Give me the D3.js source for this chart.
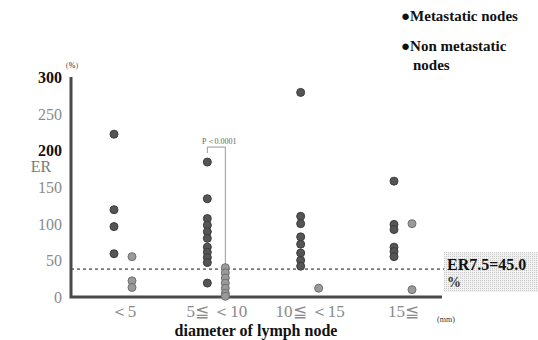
<!DOCTYPE html>
<html lang="en">
<head>
    <meta charset="UTF-8">
    <title>ER by lymph node diameter</title>
    <script src="https://d3js.org/d3.v7.min.js"></script>
    <style>
        body { margin: 0; background: #ffffff; }
        svg { display: block; }
    </style>
</head>
<body>
    <svg width="538" height="340"></svg>

    <script>
        // DATA (ER in %)
        const categories = ["＜5", "5≦ ＜10", "10≦ ＜15", "15≦"];
        const metastatic = [
            [222, 119, 96, 59],
            [184, 134, 107, 98, 89, 80, 68, 61, 54, 47, 19],
            [279, 110, 100, 82, 72, 60, 50, 42],
            [158, 99, 92, 68, 62, 55]
        ];
        const nonMetastatic = [
            [55, 22, 13],
            [40, 33, 26, 19, 12, 5, 1],
            [12],
            [100, 10]
        ];
        const yTicks = [0, 50, 100, 150, 200, 250, 300];
        const boldTicks = [200, 300];
        const threshold = 38;          // where the dotted cut-off line sits in the picture
        const thresholdLabel = ["ER7.5=45.0", "%"];
        const pText = "P＜0.0001";

        const serif = "Liberation Serif";
        const svg = d3.select("svg");
        const plot = { left: 71, right: 442, top: 77, bottom: 297 };

        const y = d3.scaleLinear().domain([0, 300]).range([plot.bottom, plot.top]);
        const x = d3.scalePoint().domain(categories).range([123, 403]);
        const offset = d3.scalePoint().domain(["met", "non"]).range([-9, 9]);

        // flatten series into points
        const points = [];
        categories.forEach((c, i) => {
            metastatic[i].forEach(v => points.push({ cat: c, type: "met", value: v }));
            nonMetastatic[i].forEach(v => points.push({ cat: c, type: "non", value: v }));
        });

        // Y axis labels
        const yAxis = svg.append("g")
            .attr("transform", `translate(${plot.left},0)`)
            .call(d3.axisLeft(y).tickValues(yTicks).tickSize(0).tickPadding(9));
        yAxis.select(".domain").remove();
        yAxis.selectAll("text")
            .style("font-size", "16px")
            .style("font-weight", d => boldTicks.includes(d) ? "bold" : "normal")
            .attr("fill", d => boldTicks.includes(d) ? "#111" : "#8a8a8a")
            .attr("dy", "0.35em");

        svg.append("text")
            .attr("x", 72).attr("y", 68)
            .attr("text-anchor", "middle")
            .style("font-size", "8px")
            .attr("fill", "#222")
            .text("（%）");

        svg.append("text")
            .attr("x", 41).attr("y", 172)
            .attr("text-anchor", "middle")
            .style("font-size", "16px")
            .attr("fill", "#7a7a7a")
            .text("ER");

        // X axis labels
        const xAxis = svg.append("g")
            .attr("transform", `translate(0,${plot.bottom})`)
            .call(d3.axisBottom(x).tickSize(0).tickPadding(8));
        xAxis.select(".domain").remove();
        xAxis.selectAll("text")
            .style("font-size", "17px")
            .attr("fill", "#8a8a8a");

        // threshold dotted line
        svg.append("line")
            .attr("x1", plot.left).attr("x2", 444)
            .attr("y1", y(threshold)).attr("y2", y(threshold))
            .attr("stroke", "#777")
            .attr("stroke-width", 1.6)
            .attr("stroke-dasharray", "3,3");

        // axis lines
        svg.append("path")
            .attr("d", `M${plot.left},${plot.top}V${plot.bottom}H${plot.right}`)
            .attr("fill", "none")
            .attr("stroke", "#4a4a4a")
            .attr("stroke-width", 3);

        // P value bracket between the 5-10 groups
        const c2 = categories[1];
        const bx1 = x(c2) + offset("met");
        const bx2 = x(c2) + offset("non");
        const by = y(d3.max(metastatic[1])) - 15;
        svg.append("path")
            .attr("d", `M${bx1},${by + 6}V${by}H${bx2}V${y(d3.max(nonMetastatic[1])) - 2}`)
            .attr("fill", "none")
            .attr("stroke", "#999")
            .attr("stroke-width", 1);
        svg.append("text")
            .attr("x", (bx1 + bx2) / 2 + 3).attr("y", by - 3)
            .attr("text-anchor", "middle")
            .style("font-size", "8px")
            .attr("fill", "#666")
            .text(pText);

        // dots
        svg.append("g").selectAll("circle")
            .data(points)
            .join("circle")
            .attr("cx", d => x(d.cat) + offset(d.type))
            .attr("cy", d => y(d.value))
            .attr("r", 4)
            .attr("fill", d => d.type === "met" ? "#555" : "#9a9a9a")
            .attr("stroke", d => d.type === "met" ? "#3c3c3c" : "#6e6e6e")
            .attr("stroke-width", 1);

        // threshold box
        const pattern = svg.append("defs").append("pattern")
            .attr("id", "dots").attr("width", 2).attr("height", 2)
            .attr("patternUnits", "userSpaceOnUse");
        pattern.append("rect").attr("width", 2).attr("height", 2).attr("fill", "#f2f2f2");
        pattern.append("rect").attr("width", 1).attr("height", 1).attr("fill", "#c8c8c8");
        svg.append("rect")
            .attr("x", 444).attr("y", 252).attr("width", 94).attr("height", 40)
            .attr("fill", "url(#dots)");
        svg.append("text")
            .attr("x", 447).attr("y", 270)
            .style("font-size", "16px").style("font-weight", "bold")
            .attr("fill", "#111")
            .text(thresholdLabel[0]);
        svg.append("text")
            .attr("x", 447).attr("y", 287)
            .style("font-size", "14px").style("font-weight", "bold")
            .attr("fill", "#333")
            .text(thresholdLabel[1]);

        // axis title and unit
        svg.append("text")
            .attr("x", 256).attr("y", 336)
            .attr("text-anchor", "middle")
            .style("font-size", "16px").style("font-weight", "bold")
            .attr("fill", "#111")
            .text("diameter of lymph node");
        svg.append("text")
            .attr("x", 446).attr("y", 322)
            .attr("text-anchor", "middle")
            .style("font-size", "8px")
            .attr("fill", "#333")
            .text("(mm)");

        // legend
        const legend = svg.append("g").style("font-size", "15px").style("font-weight", "bold").attr("fill", "#111");
        legend.append("text").attr("x", 401).attr("y", 21).text("●Metastatic nodes");
        legend.append("text").attr("x", 401).attr("y", 51).text("●Non metastatic");
        legend.append("text").attr("x", 413).attr("y", 70).text("nodes");

        // one serif face for every label
        svg.selectAll("text").attr("font-family", serif).style("font-family", serif);
    </script>
</body>
</html>
